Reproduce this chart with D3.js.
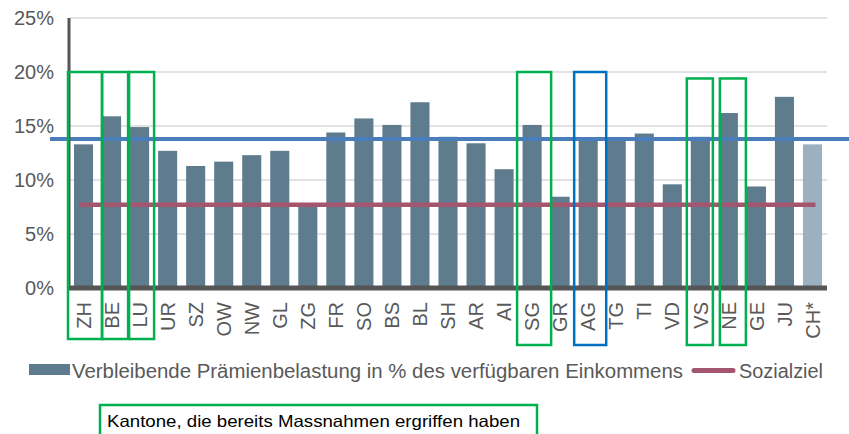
<!DOCTYPE html>
<html>
<head>
<meta charset="utf-8">
<script src="https://cdn.jsdelivr.net/npm/d3@7"></script>
<style>
  html, body { margin: 0; padding: 0; background: #fff; }
  svg { display: block; font-family: Arial, "Liberation Sans", sans-serif; }
</style>
</head>
<body>
<div class="display"></div>
<script>
const WIDTH = 849;
const HEIGHT = 434;

// data (% of disposable income)
const CANTONS = ['ZH', 'BE', 'LU', 'UR', 'SZ', 'OW', 'NW', 'GL', 'ZG', 'FR', 'SO', 'BS', 'BL', 'SH',
  'AR', 'AI', 'SG', 'GR', 'AG', 'TG', 'TI', 'VD', 'VS', 'NE', 'GE', 'JU', 'CH*'];
const BURDEN = [13.3, 15.9, 14.9, 12.7, 11.3, 11.7, 12.3, 12.7, 7.5, 14.4, 15.7, 15.1, 17.2, 14.0,
  13.4, 11.0, 15.1, 8.45, 13.9, 13.7, 14.3, 9.6, 14.0, 16.2, 9.4, 17.7, 13.3];
const SOCIAL_GOAL = 7.7;
const REFERENCE_LINE = 13.8;
const Y_TICKS = [0, 5, 10, 15, 20, 25];

// annotated cantons
const BOX_CANTONS = ['ZH', 'BE', 'LU', 'SG', 'AG', 'VS', 'NE'];
const BOX_TOPS = [20, 20, 20, 20, 20, 19.4, 19.4];
const BOX_KIND = ['done', 'done', 'done', 'done', 'other', 'done', 'done'];

const LEGEND_BARS = 'Verbleibende Prämienbelastung in % des verfügbaren Einkommens';
const LEGEND_LINE = 'Sozialziel';
const NOTE = 'Kantone, die bereits Massnahmen ergriffen haben';

const BAR_COLOR = '#5f7b8e';
const TOTAL_COLOR = '#9db0bf';
const GOAL_COLOR = '#a5566f';
const REF_COLOR = '#4a7ebb';
const GREEN = '#00b050';
const BLUE = '#0070c0';
const TEXT_GREY = '#595959';

const svg = d3.select('.display')
  .append('svg')
  .attr('width', WIDTH)
  .attr('height', HEIGHT);

svg.append('rect')
  .attr('width', WIDTH)
  .attr('height', HEIGHT)
  .attr('fill', '#fff');

const x = d3.scaleBand()
  .domain(CANTONS)
  .range([69.5, 826.5])
  .paddingInner(0.32)
  .paddingOuter(0.16);

const y = d3.scaleLinear()
  .domain([0, 25])
  .range([288, 18]);

const center = c => x(c) + x.bandwidth() / 2;

// gridlines
svg.append('g')
  .selectAll('line')
  .data(Y_TICKS.filter(t => t > 0))
  .enter()
  .append('line')
  .attr('x1', 70)
  .attr('x2', 827)
  .attr('y1', d => y(d))
  .attr('y2', d => y(d))
  .attr('stroke', '#d9d9d9')
  .attr('stroke-width', 1.5);

// y axis labels
const yAxis = svg.append('g')
  .attr('transform', 'translate(54, 0)')
  .call(d3.axisLeft(y).tickValues(Y_TICKS).tickSize(0).tickPadding(0).tickFormat(d => d + '%'));
yAxis.select('.domain').remove();
yAxis.selectAll('text')
  .attr('fill', TEXT_GREY)
  .style('font-size', '20px')
  .style('font-family', 'Arial, "Liberation Sans", sans-serif');

// bars
svg.append('g')
  .selectAll('rect')
  .data(CANTONS.map((c, i) => ({ c, v: BURDEN[i] })))
  .enter()
  .append('rect')
  .attr('x', d => x(d.c))
  .attr('y', d => y(d.v))
  .attr('width', x.bandwidth())
  .attr('height', d => y(0) - y(d.v))
  .attr('fill', d => d.c === 'CH*' ? TOTAL_COLOR : BAR_COLOR);

// social goal line
svg.append('line')
  .attr('x1', center(CANTONS[0]) - 4)
  .attr('x2', center(CANTONS[CANTONS.length - 1]) + 3)
  .attr('y1', y(SOCIAL_GOAL))
  .attr('y2', y(SOCIAL_GOAL))
  .attr('stroke', GOAL_COLOR)
  .attr('stroke-width', 4.5);

// reference line
svg.append('line')
  .attr('x1', 50)
  .attr('x2', WIDTH)
  .attr('y1', y(REFERENCE_LINE))
  .attr('y2', y(REFERENCE_LINE))
  .attr('stroke', REF_COLOR)
  .attr('stroke-width', 4);

// axis lines
svg.append('line')
  .attr('x1', 69).attr('x2', 69)
  .attr('y1', y(25)).attr('y2', y(0) + 2)
  .attr('stroke', '#555').attr('stroke-width', 3);
svg.append('line')
  .attr('x1', 68).attr('x2', 827)
  .attr('y1', y(0)).attr('y2', y(0))
  .attr('stroke', '#555').attr('stroke-width', 5);

// category labels
svg.append('g')
  .selectAll('text')
  .data(CANTONS)
  .enter()
  .append('text')
  .attr('transform', d => `translate(${center(d)}, 302) rotate(-90)`)
  .attr('dy', '0.36em')
  .attr('text-anchor', 'end')
  .attr('fill', TEXT_GREY)
  .style('font-size', '20px')
  .text(d => d);

// annotation boxes (edge tweaks so they sit like the hand-drawn ones)
const BOX_EDGES = [[-1.5, 4.5], [4.5, 2.5], [3.5, 0.5], [-1, 5], [0, 4], [0.5, -1.5], [5.5, 3.5]];
svg.append('g')
  .selectAll('rect')
  .data(BOX_CANTONS.map((c, i) => ({ c, top: BOX_TOPS[i], kind: BOX_KIND[i], e: BOX_EDGES[i], i })))
  .enter()
  .append('rect')
  .attr('x', d => x(d.c) - x.step() * x.paddingInner() / 2 + d.e[0])
  .attr('width', d => x.step() - d.e[0] + d.e[1])
  .attr('y', d => y(d.top))
  .attr('height', d => (d.i < 3 ? 339 : 345) - y(d.top))
  .attr('fill', 'none')
  .attr('stroke', d => d.kind === 'done' ? GREEN : BLUE)
  .attr('stroke-width', 2.5);

// legend
svg.append('rect')
  .attr('x', 29).attr('y', 364)
  .attr('width', 41).attr('height', 11)
  .attr('fill', BAR_COLOR);
svg.append('text')
  .attr('x', 72).attr('y', 378)
  .attr('fill', TEXT_GREY)
  .style('font-size', '19.5px')
  .attr('textLength', 611)
  .attr('lengthAdjust', 'spacingAndGlyphs')
  .text(LEGEND_BARS);
svg.append('line')
  .attr('x1', 694).attr('x2', 733)
  .attr('y1', 370.5).attr('y2', 370.5)
  .attr('stroke', GOAL_COLOR)
  .attr('stroke-width', 5)
  .attr('stroke-linecap', 'round');
svg.append('text')
  .attr('x', 739).attr('y', 378)
  .attr('fill', TEXT_GREY)
  .style('font-size', '19.5px')
  .attr('textLength', 84)
  .attr('lengthAdjust', 'spacingAndGlyphs')
  .text(LEGEND_LINE);

// note box
svg.append('rect')
  .attr('x', 100).attr('y', 405)
  .attr('width', 437).attr('height', 34)
  .attr('fill', '#fff')
  .attr('stroke', GREEN)
  .attr('stroke-width', 2.5);
svg.append('text')
  .attr('x', 107).attr('y', 427)
  .attr('fill', '#000')
  .style('font-size', '16.5px')
  .attr('textLength', 413)
  .attr('lengthAdjust', 'spacingAndGlyphs')
  .text(NOTE);
</script>
</body>
</html>
